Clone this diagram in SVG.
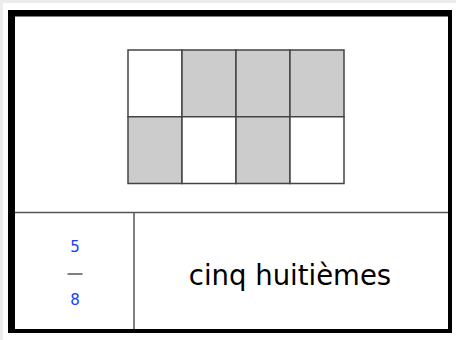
<svg xmlns="http://www.w3.org/2000/svg" width="456" height="340" viewBox="0 0 456 340">
<style>
.cell{stroke:#444;stroke-width:1.5}
.on{fill:#cccccc}
.off{fill:#ffffff}
.div{stroke:#555;stroke-width:1.5}
.num{font-family:"DejaVu Sans",Verdana,sans-serif;font-size:15px;fill:#1a3cff;text-anchor:middle}
.word{font-family:"DejaVu Sans",Verdana,sans-serif;font-size:27.5px;fill:#000;text-anchor:middle}
</style>
<rect x="0" y="0" width="456" height="340" fill="#ececec"/>
<rect x="3" y="3" width="453" height="337" fill="#ffffff"/>
<g id="frame">
<path d="M8,10 H452 V333 H8 Z M15,16.5 V329 H448 V16.5 Z" fill="#000" fill-rule="evenodd"/>
<line class="div" x1="15" y1="212.5" x2="448" y2="212.5"/>
<line class="div" x1="134" y1="212.5" x2="134" y2="329"/>
</g>
<g id="grid">
<rect class="cell off" x="128" y="50" width="54" height="66.75"/>
<rect class="cell on" x="182" y="50" width="54" height="66.75"/>
<rect class="cell on" x="236" y="50" width="54" height="66.75"/>
<rect class="cell on" x="290" y="50" width="54" height="66.75"/>
<rect class="cell on" x="128" y="116.75" width="54" height="66.75"/>
<rect class="cell off" x="182" y="116.75" width="54" height="66.75"/>
<rect class="cell on" x="236" y="116.75" width="54" height="66.75"/>
<rect class="cell off" x="290" y="116.75" width="54" height="66.75"/>
</g>
<g id="fraction">
<text class="num" x="75" y="252">5</text>
<line x1="67.5" y1="274" x2="82.5" y2="274" stroke="#555" stroke-width="1.5"/>
<text class="num" x="75" y="305">8</text>
</g>
<g id="words">
<text class="word" x="290" y="285">cinq huitièmes</text>
</g>
</svg>
